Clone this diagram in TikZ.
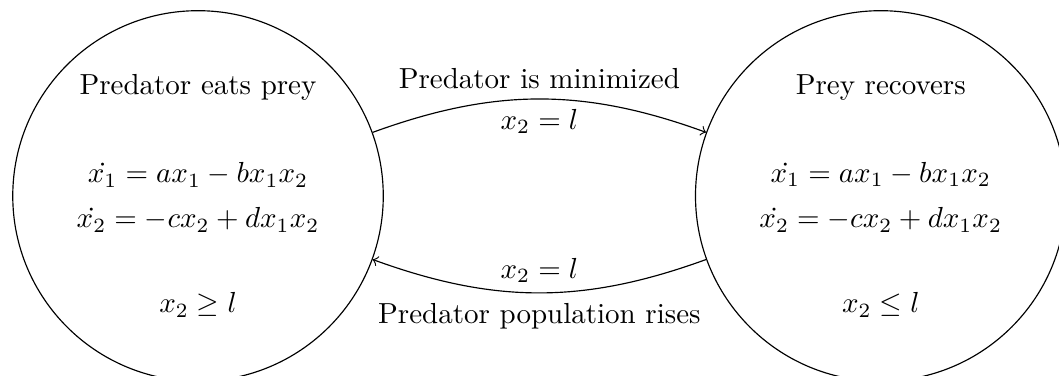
\documentclass[tikz,border=0pt]{standalone}
\usepackage{amsmath}
\usepackage{amssymb}
\usetikzlibrary{positioning}

\begin{document}
\begin{tikzpicture}[
        state/.style={circle, draw, minimum size=4.49cm, align=center},
        arrow/.style={->}
    ]
        \clip (-2.4,-2.182) rectangle (10.435,2.375);
        \node[state] (eats) {Predator eats prey\\[18.3pt]
            $\dot{x_1} = ax_1 - bx_1x_2$\\[3.6pt]
            $\dot{x_2} = -cx_2 + dx_1x_2$\\[17.3pt]
            $x_2 \geq l$};
        \node[state, right=3.77cm of eats] (recovers) {Prey recovers\\[18.3pt]
            $\dot{x_1} = ax_1 - bx_1x_2$\\[3.6pt]
            $\dot{x_2} = -cx_2 + dx_1x_2$\\[17.3pt]
            $x_2 \leq l$};
        \draw[arrow] (eats) to[bend left=20] node[above]{Predator is minimized} node[below]{$x_2 = l$} (recovers);
        \draw[arrow] (recovers) to[bend left=20] node[above]{$x_2 = l$} node[below]{Predator population rises} (eats);
    \end{tikzpicture}
\end{document}
